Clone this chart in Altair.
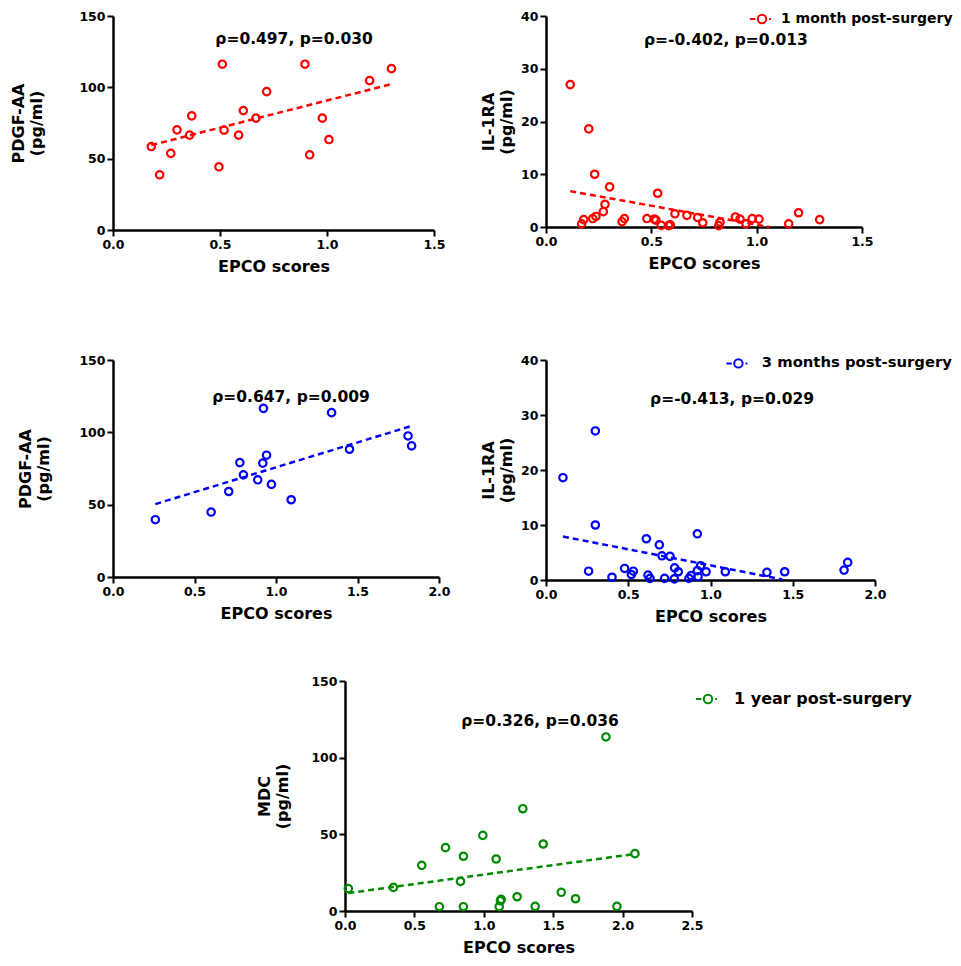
import altair as alt
import pandas as pd

FONT = "DejaVu Sans"

# ---------- Panel A: 1 month, PDGF-AA ----------
a_x = [0.179, 0.218, 0.270, 0.299, 0.358, 0.368, 0.495, 0.511, 0.519, 0.587,
       0.609, 0.668, 0.718, 0.897, 0.919, 0.978, 1.009, 1.199, 1.301]
a_y = [58.5, 38.7, 53.7, 70.2, 66.5, 80.0, 44.3, 116.2, 70.0, 66.5,
       83.7, 78.4, 97.0, 116.2, 52.7, 78.4, 63.4, 104.7, 113.1]
a_fit_x = [0.179, 1.30]
a_fit_y = [59.5, 102.2]

# ---------- Panel B: 1 month, IL-1RA ----------
b_x = [0.115, 0.203, 0.231, 0.302, 0.280, 0.272, 0.237, 0.222, 0.179, 0.169,
       0.361, 0.372, 0.479, 0.514, 0.522, 0.530, 0.547, 0.582, 0.590, 0.612,
       0.669, 0.720, 0.744, 0.820, 0.826, 0.899, 0.921, 0.949, 0.979, 1.011,
       1.152, 1.199, 1.299]
b_y = [27.0, 18.6, 10.0, 7.6, 4.3, 2.9, 2.0, 1.6, 1.4, 0.6,
       1.0, 1.6, 1.6, 1.5, 1.3, 6.4, 0.3, 0.25, 0.4, 2.5,
       2.2, 1.8, 0.8, 0.25, 0.9, 1.9, 1.5, 0.6, 1.6, 1.5,
       0.6, 2.7, 1.4]
b_fit_x = [0.115, 1.06]
b_fit_y = [6.8, 0.0]

# ---------- Panel C: 3 months, PDGF-AA ----------
c_x = [0.260, 0.602, 0.710, 0.778, 0.800, 0.888, 0.923, 0.919, 0.942, 0.972,
       1.093, 1.341, 1.451, 1.810, 1.832]
c_y = [39.6, 44.9, 59.1, 79.1, 70.6, 67.2, 116.6, 78.7, 84.2, 64.0,
       53.4, 113.6, 88.3, 97.5, 90.6]
c_fit_x = [0.26, 1.82]
c_fit_y = [50.4, 104.0]

# ---------- Panel D: 3 months, IL-1RA ----------
d_x = [0.103, 0.300, 0.300, 0.259, 0.401, 0.478, 0.519, 0.531, 0.610, 0.620,
       0.632, 0.689, 0.705, 0.754, 0.721, 0.782, 0.780, 0.804, 0.869, 0.882,
       0.920, 0.920, 0.924, 0.940, 0.973, 1.090, 1.343, 1.451, 1.812, 1.834]
d_y = [18.6, 27.1, 10.0, 1.6, 0.5, 2.1, 1.0, 1.6, 7.5, 0.9,
       0.3, 6.4, 4.4, 4.3, 0.3, 2.2, 0.2, 1.5, 0.3, 0.8,
       8.4, 1.7, 0.6, 2.6, 1.5, 1.5, 1.4, 1.5, 1.8, 3.2]
d_fit_x = [0.103, 1.437]
d_fit_y = [7.9, 0.1]

# ---------- Panel E: 1 year, MDC ----------
e_x = [0.024, 0.349, 0.553, 0.680, 0.724, 0.832, 0.853, 0.853, 0.993, 1.089,
       1.111, 1.120, 1.125, 1.240, 1.281, 1.370, 1.428, 1.558, 1.661, 1.880,
       1.959, 2.089]
e_y = [14.6, 15.4, 29.8, 2.8, 41.3, 19.3, 35.7, 2.8, 49.3, 33.9,
       2.8, 6.7, 7.6, 9.3, 66.7, 3.0, 43.7, 12.2, 8.0, 113.5,
       3.0, 37.4]
e_fit_x = [0.024, 2.089]
e_fit_y = [11.7, 37.2]

annotations = ["ρ=0.497, p=0.030", "ρ=-0.402, p=0.013", "ρ=0.647, p=0.009",
               "ρ=-0.413, p=0.029", "ρ=0.326, p=0.036"]
legend_labels = ["1 month post-surgery", "3 months post-surgery", "1 year post-surgery"]

RED, BLUE, GREEN = "#FF0000", "#0000FF", "#008A00"

# legend glyph: dash, open circle, dot (drawn at scale sqrt(size)/2)
LEG_PATH = ("M-3,0L-1.65,0M-1.05,0A1.05,1.05,0,1,1,1.05,0"
            "A1.05,1.05,0,1,1,-1.05,0M1.8,0L2.25,0")


def panel(key, xs, ys, fx, fy, color, xmax, xticks, ymax, yticks, ytitle, tpad,
          annot, ax, ay, w, h, legend=None):
    df = pd.DataFrame({"x": xs, "y": ys})
    fdf = pd.DataFrame({"x": fx, "y": fy})
    xsc = alt.Scale(domain=[0, xmax], nice=False, zero=True)
    ysc = alt.Scale(domain=[0, ymax], nice=False, zero=True)
    X = alt.X("x:Q", scale=xsc,
              axis=alt.Axis(values=xticks, format=".1f", title="EPCO scores"))
    Y = alt.Y("y:Q", scale=ysc,
              axis=alt.Axis(values=yticks, format="d", title=ytitle, titlePadding=tpad))
    line = alt.Chart(fdf).mark_line(
        strokeDash=[6, 4], strokeWidth=2.5, color=color
    ).encode(x=X, y=Y)
    enc = dict(x=X, y=Y)
    if legend is not None:
        field = "s_" + key
        df[field] = legend[0]
        enc["color"] = alt.Color(
            field + ":N",
            scale=alt.Scale(domain=[legend[0]], range=[color]),
            legend=alt.Legend(
                orient="none", legendX=legend[1], legendY=legend[2], title=None,
                symbolType=LEG_PATH, symbolSize=64, symbolStrokeWidth=2,
                symbolFillColor="transparent", symbolStrokeColor=color,
                labelFont=FONT, labelFontSize=legend[3], labelFontWeight="bold",
                labelColor="black", labelOffset=legend[4], padding=0,
                labelLimit=400,
            ),
        )
    pts = alt.Chart(df).mark_point(
        shape="circle", filled=False, size=55, strokeWidth=2.2, color=color, opacity=1
    ).encode(**enc)
    tdf = pd.DataFrame({"x": [ax], "y": [ay], "t": [annot]})
    txt = alt.Chart(tdf).mark_text(
        font=FONT, fontSize=15.5, fontWeight="bold", color="black",
        align="center", baseline="middle"
    ).encode(x=X, y=Y, text="t:N")
    return alt.layer(line, pts, txt).properties(width=w, height=h)


pA = panel("a", a_x, a_y, a_fit_x, a_fit_y, RED, 1.5, [0, 0.5, 1.0, 1.5], 150,
           [0, 50, 100, 150], ["PDGF-AA", "(pg/ml)"], 34, annotations[0], 0.846, 133.9, 321, 214)
pB = panel("b", b_x, b_y, b_fit_x, b_fit_y, RED, 1.5, [0, 0.5, 1.0, 1.5], 40,
           [0, 10, 20, 30, 40], ["IL-1RA", "(pg/ml)"], 6, annotations[1], 0.854, 35.5, 316, 211,
           legend=(legend_labels[0], 209, -4, 14, 12))
pC = panel("c", c_x, c_y, c_fit_x, c_fit_y, BLUE, 2.0, [0, 0.5, 1.0, 1.5, 2.0], 150,
           [0, 50, 100, 150], ["PDGF-AA", "(pg/ml)"], 27, annotations[2], 1.092, 124.4, 326, 217)
pD = panel("d", d_x, d_y, d_fit_x, d_fit_y, BLUE, 2.0, [0, 0.5, 1.0, 1.5, 2.0], 40,
           [0, 10, 20, 30, 40], ["IL-1RA", "(pg/ml)"], 6, annotations[3], 1.131, 32.9, 329, 220,
           legend=(legend_labels[1], 185, -4, 14.8, 16))
pE = panel("e", e_x, e_y, e_fit_x, e_fit_y, GREEN, 2.5, [0, 0.5, 1.0, 1.5, 2.0, 2.5], 150,
           [0, 50, 100, 150], ["MDC", "(pg/ml)"], 20, annotations[4], 1.405, 123.9, 347, 230,
           legend=(legend_labels[2], 355, 10, 16, 18))

spacer = alt.Chart(pd.DataFrame({"a": [0]})).mark_point(opacity=0).encode(
    x=alt.X("a:Q", axis=None), y=alt.Y("a:Q", axis=None)
).properties(width=143, height=10)


def indep(c):
    return c.resolve_scale(color="independent").resolve_legend(color="independent")


row1 = indep(alt.hconcat(pA, pB, spacing=34))
row2 = indep(alt.hconcat(pC, pD, spacing=29))
row3 = indep(alt.hconcat(spacer, pE, spacing=0))

top = indep(alt.vconcat(row1, row2, spacing=79))
chart = indep(alt.vconcat(top, row3, spacing=50)).configure_axis(
    domainColor="black", domainWidth=2.5, tickColor="black", tickWidth=2, tickSize=6,
    labelFont=FONT, labelFontSize=12.5, labelFontWeight="bold", labelColor="black",
    labelPadding=2, labelFlush=False, labelOverlap=False,
    titleFont=FONT, titleFontSize=16, titleFontWeight="bold", titleColor="black",
    titleLineHeight=18, grid=False,
).configure_axisX(titlePadding=8).configure_view(
    stroke=None
).properties(background="white", padding={"left": 2, "top": 2, "right": 0, "bottom": 0})

chart.save("out.html", embed_options={"renderer": "svg", "actions": False})
